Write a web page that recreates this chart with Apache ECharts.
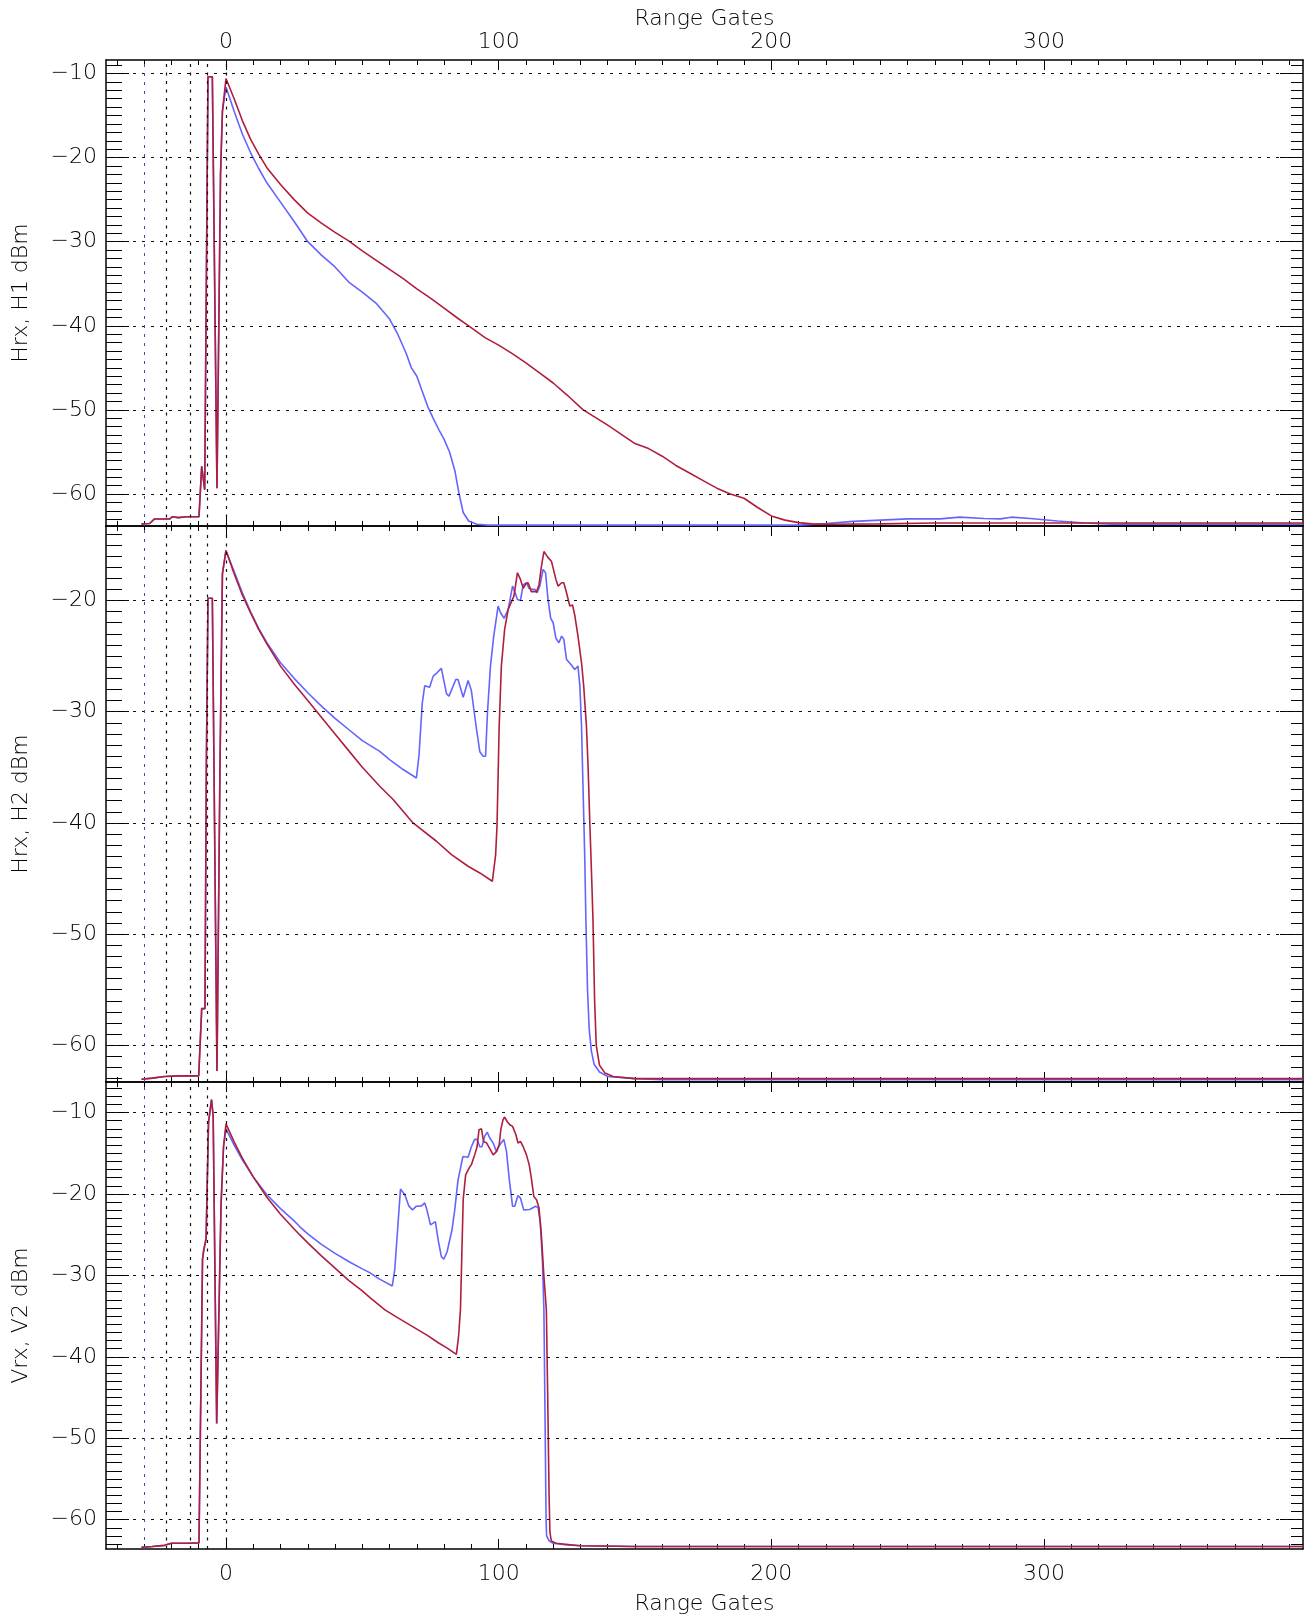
<!DOCTYPE html>
<html><head><meta charset="utf-8">
<script src="https://cdn.jsdelivr.net/npm/echarts@6/dist/echarts.min.js"></script>
<style>html,body{margin:0;padding:0;background:#fff}#c{width:1311px;height:1622px}</style>
</head><body><div id="c"></div>
<script>
// ---------------- data ----------------
const gateMin = -44, gateMax = 395;
const xMajorTicks = [0, 100, 200, 300];
const yMajorTicks = [-60, -50, -40, -30, -20, -10];
const markerGates = [-30, -22, -13, -7, 0];
const panelNames = ['Hrx, H1 dBm', 'Hrx, H2 dBm', 'Vrx, V2 dBm'];
const panelYMin = [-63.8, -63.3, -63.6];
const panelYMax = [-8.4, -13.3, -6.25];
const xAxisTitle = 'Range Gates';

// Panel 1
const p1PreGates = [-31,-28,-26.2,-20.6,-19.6,-17.5,-14.4,-9.9,-8.9,-7.8,-6.6,-5.0,-3.3,-2.0,-1.3];
const p1PreDb    = [-63.55,-63.5,-62.96,-62.96,-62.7,-62.8,-62.7,-62.7,-56.7,-59.5,-10.4,-10.4,-59.3,-22,-14.5];
const p1BlueGates = [0,3,6,9,12,15,20,25,30,35,40,45,50,55,60,63,66,68,70,72,74,76,78,80,82,84,85.5,87,89,92,96,210,220,230,240,250,262,269,278,284,288,295,305,315,325,395];
const p1BlueDb    = [-11.6,-14.5,-17.2,-19.4,-21.3,-23.0,-25.3,-27.6,-30.0,-31.6,-33.0,-34.8,-36.0,-37.3,-39.2,-41.0,-43.2,-45.0,-46.0,-47.8,-49.6,-51.0,-52.3,-53.5,-55.0,-57.3,-60.0,-62.2,-63.2,-63.6,-63.7,-63.7,-63.5,-63.25,-63.1,-62.95,-62.95,-62.75,-62.9,-62.95,-62.75,-62.9,-63.2,-63.45,-63.6,-63.6];
const p1RedGates = [0,3,6,9,12,15,20,25,30,35,40,45,50,55,60,65,70,75,80,85,89,95,100,105,110,115,120,125,131,135,140,145,150,155,160,165,170,175,180,185,190,195,200,205,210,215,220,240,260,300,395];
const p1RedDb    = [-10.6,-13.0,-15.6,-17.8,-19.6,-21.2,-23.2,-25.0,-26.6,-27.8,-28.9,-29.9,-31.1,-32.2,-33.3,-34.4,-35.6,-36.7,-37.9,-39.1,-40.0,-41.4,-42.3,-43.3,-44.4,-45.6,-46.8,-48.2,-50.0,-50.8,-51.8,-52.9,-54.0,-54.6,-55.5,-56.6,-57.5,-58.4,-59.3,-60.0,-60.5,-61.6,-62.6,-63.1,-63.4,-63.55,-63.6,-63.55,-63.45,-63.45,-63.45];

// Panel 2
const p2PreGates = [-31,-27,-22.5,-17.5,-10,-8.9,-7.7,-7.2,-6.6,-5.0,-3.3,-2.2,-1.3];
const p2PreDb    = [-63.05,-62.95,-62.8,-62.75,-62.75,-56.7,-56.7,-35,-19.8,-19.8,-62.3,-35,-17.6];
const p2BlueGates = [0,3,6,9,12,15,20,25,30,35,40,45,50,56.4,60,65,69.85,70.8,72.0,72.9,74.7,76.0,77.4,79.0,80.9,81.8,84.3,85.1,87.0,88.8,90.0,91.9,93.1,94.3,95.2,95.9,97.0,98.2,99.8,100.7,102.0,103.5,105.1,105.9,106.9,108.0,109.0,110.2,111.1,112.0,113.3,114.1,115.1,116.3,117.2,118.1,119.1,120.0,121.0,122.1,123.1,123.9,124.9,126.7,127.9,129.1,129.8,130.4,131.0,131.6,132.0,132.6,133.2,134,135,137,140,150,160,395];
const p2BlueDb    = [-15.5,-17.4,-19.3,-21.0,-22.5,-23.8,-25.6,-27.0,-28.3,-29.5,-30.6,-31.6,-32.6,-33.57,-34.3,-35.2,-35.96,-33.9,-29.2,-27.66,-27.8,-26.8,-26.5,-26.1,-28.4,-28.6,-27.1,-27.1,-28.7,-27.2,-28.1,-31.6,-33.6,-34.0,-34.0,-30.1,-25.9,-23.2,-20.5,-21.1,-21.6,-20.8,-18.7,-19.2,-19.9,-20.0,-18.6,-18.4,-18.9,-19.0,-19.0,-19.3,-18.7,-17.2,-17.5,-19.9,-21.6,-22.0,-23.4,-23.8,-23.2,-23.5,-25.3,-25.8,-26.2,-25.9,-27.7,-31.3,-37.3,-43.3,-48.7,-55,-58.5,-60.5,-61.7,-62.4,-62.8,-63.0,-63.1,-63.1];
const p2RedGates = [0,3,6,9,12,15,20,25,30,35,40,45,50,56.4,61.3,68.6,77.2,82.7,88.8,93.1,97.7,98.9,99.4,100.2,101.0,102.2,103.5,104.7,105.6,106.9,108.0,109.0,110.0,110.8,112.0,113.9,114.8,115.7,116.6,118.0,119.4,121.0,121.8,123.1,123.9,124.9,126.1,127.1,127.9,129.1,130.4,131.2,132.2,132.8,133.4,134.1,134.6,135.2,135.8,137,139,142,150,395];
const p2RedDb    = [-15.5,-17.6,-19.5,-21.1,-22.6,-23.9,-25.9,-27.5,-29.0,-30.5,-32.0,-33.5,-35.0,-36.7,-37.9,-40.0,-41.65,-42.85,-43.9,-44.5,-45.25,-42.85,-40.3,-31.3,-25.9,-22.6,-20.8,-20.1,-19.6,-17.5,-18.1,-18.9,-18.5,-18.4,-19.2,-19.2,-18.6,-16.9,-15.6,-16.1,-16.5,-18.1,-18.7,-18.4,-18.4,-19.3,-20.5,-20.4,-21.3,-23.2,-25.6,-27.7,-31.3,-34.9,-39.7,-44.8,-48.7,-56,-60.0,-61.8,-62.5,-62.8,-63.0,-63.0];

// Panel 3
const p3PreGates = [-31,-27,-22.5,-20,-14,-9.9,-8.6,-8.2,-7.3,-6.4,-5.3,-4.7,-3.4,-1.8,-0.9];
const p3PreDb    = [-63.4,-63.3,-63.15,-62.9,-62.9,-62.85,-28,-27.0,-25.5,-11.2,-8.4,-10.4,-48.2,-21.2,-14.2];
const p3BlueGates = [0,3,6,10,15,20,25,27,30,35,40,45,50,52.7,56,61.0,61.9,64.0,65.6,67.1,68.4,69.85,71.7,72.9,73.7,75.0,76.8,77.8,79.0,79.9,81.1,82.9,83.9,85.1,86.9,88.8,90.0,91.2,92.1,93.1,93.9,94.9,95.8,96.7,98.0,99.2,100.2,101.0,101.9,102.9,103.8,105.1,105.9,107.1,108.0,109.2,111.4,113.6,114.5,115.3,116.1,116.6,117.1,117.4,117.6,118.5,120,125,130,150,395];
const p3BlueDb    = [-12.0,-14.0,-15.8,-17.9,-20.1,-21.8,-23.3,-24.0,-24.9,-26.2,-27.3,-28.3,-29.2,-29.66,-30.4,-31.3,-29.3,-19.4,-20.1,-21.5,-21.95,-21.5,-21.46,-21.1,-21.95,-23.8,-23.4,-25.6,-27.7,-28.0,-27.1,-24.4,-21.95,-18.3,-15.4,-15.5,-14.2,-13.3,-13.3,-14.2,-14.2,-12.9,-12.4,-13.1,-13.75,-14.8,-14.1,-13.7,-13.3,-14.8,-17.9,-21.5,-21.5,-20.2,-20.5,-21.95,-21.9,-21.5,-21.7,-23.6,-28.5,-34.2,-50,-60,-62.0,-62.6,-62.9,-63.1,-63.2,-63.3,-63.3];
const p3RedGates = [0,3,6,10,15,20,25,27,30,35,40,45,50,52.7,58.2,62,66,70,74,78,81,84.5,85.3,86.0,87.0,87.9,89.2,90.0,91.2,92.1,92.8,93.7,94.5,95.5,96.7,98.0,99.2,100.2,100.8,101.6,102.2,103.1,104.1,105.1,106.3,107.1,108.0,109.0,110.2,111.2,112.0,112.9,113.9,114.8,115.7,116.6,117.5,118.0,118.5,118.8,119.3,121,130,150,395];
const p3RedDb    = [-11.4,-13.6,-15.6,-17.9,-20.4,-22.5,-24.3,-25.0,-26.0,-27.6,-29.1,-30.6,-31.9,-32.7,-34.2,-35.0,-35.8,-36.6,-37.4,-38.3,-38.9,-39.7,-37.5,-34.2,-20.7,-17.65,-16.8,-16.4,-15.2,-14.2,-12.1,-12.0,-13.6,-13.7,-14.4,-15.2,-14.8,-13.96,-12.1,-10.9,-10.55,-11.1,-11.5,-11.7,-12.7,-13.75,-13.55,-14.2,-15.2,-16.4,-18.05,-20.3,-20.7,-21.7,-25.2,-30.1,-34.2,-45,-57,-61.5,-62.6,-62.9,-63.2,-63.3,-63.3];

// ---------------- build ----------------
const panels = [
  {pg: p1PreGates, pd: p1PreDb, bg: p1BlueGates, bd: p1BlueDb, rg: p1RedGates, rd: p1RedDb},
  {pg: p2PreGates, pd: p2PreDb, bg: p2BlueGates, bd: p2BlueDb, rg: p2RedGates, rd: p2RedDb},
  {pg: p3PreGates, pd: p3PreDb, bg: p3BlueGates, bd: p3BlueDb, rg: p3RedGates, rd: p3RedDb}
];
const layout = [{top: 60, height: 466}, {top: 526, height: 556}, {top: 1082, height: 467}];
const BLUE = '#6464ff', RED = '#b01e3c';
const FONT = 'DejaVu Sans';
const txt = {fontFamily: FONT, fontSize: 22, color: '#000', fontWeight: 200};

function steps(a, b, s) { const r = []; for (let v = a; v <= b + 1e-9; v += s) r.push(Math.round(v * 100) / 100); return r; }
function pairs(g, d) { return g.map((x, i) => [x, d[i]]); }
const xMinorTicks = steps(-40, 390, 10);

const grid = [], xAxis = [], yAxis = [], series = [];
layout.forEach((L, gi) => {
  grid.push({left: 106, right: 8, top: L.top, height: L.height, containLabel: false});
  const ymin = panelYMin[gi], ymax = panelYMax[gi];
  const yMaj = yMajorTicks.filter(v => v >= ymin && v <= ymax);
  const yMin = steps(Math.ceil(ymin), Math.floor(ymax), 1);
  const isTop = gi === 0, isBottom = gi === layout.length - 1;
  const baseX = (position, ticks, len, showLine, labels, name, nameGap, margin) => ({
    type: 'value', gridIndex: gi, position, min: gateMin, max: gateMax,
    axisLine: {show: showLine, onZero: false, lineStyle: {color: '#000', width: 1.5}},
    axisTick: {show: true, inside: true, length: len, customValues: ticks, lineStyle: {color: '#000', width: 1}},
    splitLine: {show: false}, minorTick: {show: false},
    axisLabel: labels ? Object.assign({show: true, customValues: labels, margin}, txt) : {show: false},
    name: name || '', nameLocation: 'middle', nameGap: nameGap || 0, nameTextStyle: txt
  });
  const baseY = (position, ticks, len, showLine, labels, name) => ({
    type: 'value', gridIndex: gi, position, min: ymin, max: ymax,
    axisLine: {show: showLine, onZero: false, lineStyle: {color: '#000', width: 1.5}},
    axisTick: {show: true, inside: true, length: len, customValues: ticks, lineStyle: {color: '#000', width: 1}},
    splitLine: {show: false}, minorTick: {show: false},
    axisLabel: labels ? Object.assign({show: true, customValues: labels, margin: 9,
      formatter: v => String(v).replace('-', '\u2212')}, txt) : {show: false},
    name: name || '', nameLocation: 'middle', nameGap: 74, nameRotate: 90, nameTextStyle: txt
  });
  const xi = xAxis.length, yi = yAxis.length;
  xAxis.push(baseX('bottom', xMajorTicks, 10, true, isBottom ? xMajorTicks : null, isBottom ? xAxisTitle : '', 44, 14));
  xAxis.push(baseX('bottom', xMinorTicks, 5, false, null));
  xAxis.push(baseX('top', xMajorTicks, 10, true, isTop ? xMajorTicks : null, isTop ? xAxisTitle : '', 29, 7));
  xAxis.push(baseX('top', xMinorTicks, 5, false, null));
  yAxis.push(baseY('left', yMaj, 23, true, yMaj, panelNames[gi]));
  yAxis.push(baseY('left', yMin, 16, false, null));
  yAxis.push(baseY('right', yMaj, 23, true, null));
  yAxis.push(baseY('right', yMin, 12, false, null));

  const P = panels[gi];
  const gridLines = yMaj.map(v => ({yAxis: v, lineStyle: {color: '#111', width: 1, type: [3, 6]}}));
  const vLines = markerGates.map(g => ({xAxis: g, lineStyle: g === -30
    ? {color: '#4a4a9a', width: 1, type: [3, 6]}
    : {color: '#111', width: 1.2, type: [3, 5.5]}}));
  series.push({
    type: 'line', xAxisIndex: xi, yAxisIndex: yi, data: [], silent: true, animation: false,
    markLine: {silent: true, symbol: 'none', animation: false, label: {show: false}, data: gridLines.concat(vLines)}
  });
  series.push({
    type: 'line', xAxisIndex: xi, yAxisIndex: yi, showSymbol: false, animation: false,
    lineStyle: {color: BLUE, width: 1.6}, itemStyle: {color: BLUE},
    data: pairs(P.pg.concat(P.bg), P.pd.concat(P.bd))
  });
  series.push({
    type: 'line', xAxisIndex: xi, yAxisIndex: yi, showSymbol: false, animation: false,
    lineStyle: {color: RED, width: 1.6}, itemStyle: {color: RED},
    data: pairs(P.pg.concat(P.rg), P.pd.concat(P.rd))
  });
});

const chart = echarts.init(document.getElementById('c'), null, {renderer: 'canvas'});
chart.setOption({backgroundColor: '#fff', animation: false, grid, xAxis, yAxis, series});
</script></body></html>
